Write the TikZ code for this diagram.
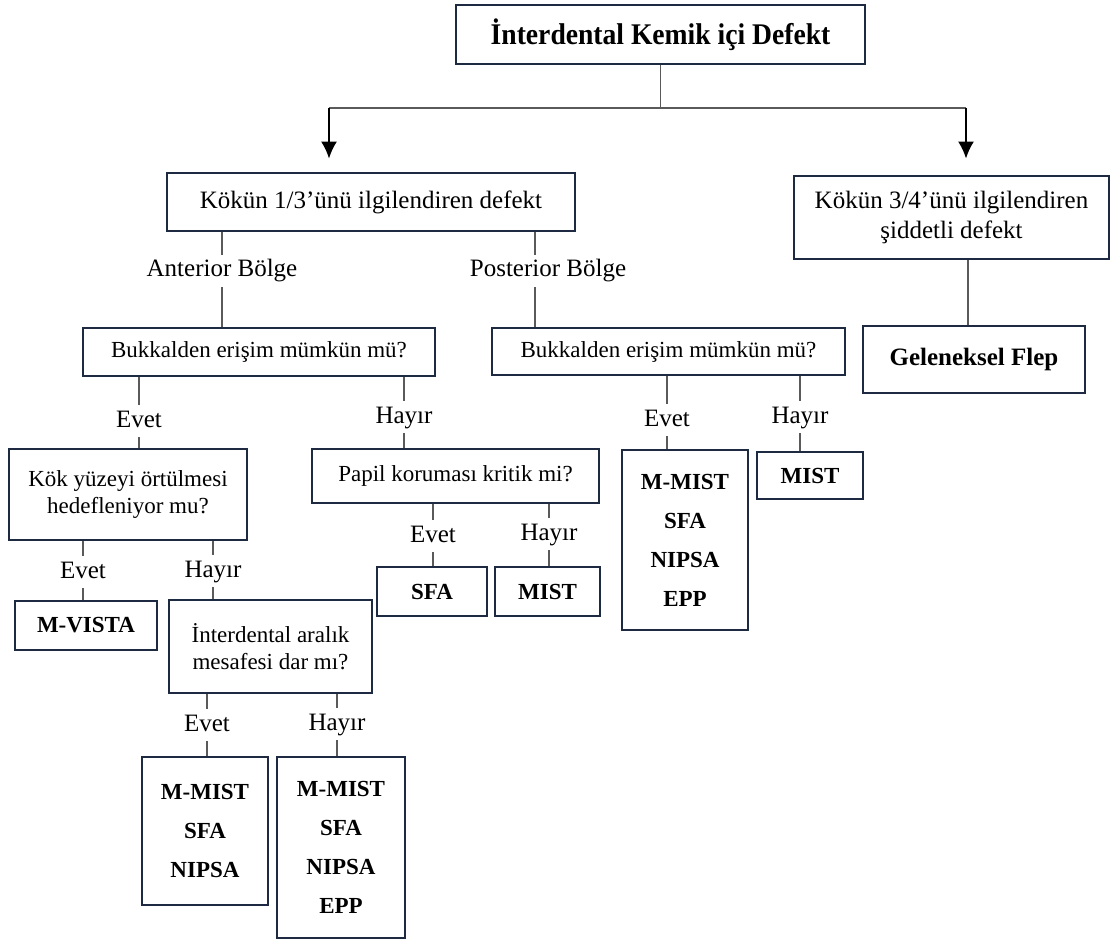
\documentclass[tikz,border=0pt]{standalone}
\usepackage{fontspec}
\setmainfont{Liberation Serif}
\newfontfamily\titlefont{Liberation Serif}[FakeStretch=0.92]
\usetikzlibrary{arrows.meta,positioning}
\definecolor{boxnavy}{RGB}{30,42,66}
\definecolor{linkgray}{RGB}{90,90,90}

\begin{document}
\begin{tikzpicture}[x=0.5pt, y=-0.5pt,
        box/.style={rectangle, draw=boxnavy, line width=1.4pt, align=center, inner sep=2pt}, % kutular
        qbox/.style={box, font=\fontsize{11.5}{13.5}\selectfont}, % soru kutulari
        res/.style={box, font=\fontsize{11.5}{19.5}\selectfont\bfseries}, % sonuc kutulari
        lbl/.style={anchor=base, font=\fontsize{12.5}{14}\selectfont, text height=8.5pt, text depth=2.5pt, inner xsep=1pt, inner ysep=2.5pt},
        link/.style={draw=linkgray, line width=0.6pt},
        arr/.style={draw=black, line width=1pt, -{Latex[length=8.5pt,width=8pt]}}
    ]
    \useasboundingbox (0,0) rectangle (1113,941);

    % ana kutular
    \node (title) [box, minimum width=204.5pt, minimum height=29.5pt, font=\titlefont\fontsize{15}{17}\selectfont\bfseries] at (660.5,34.5) {İnterdental Kemik içi Defekt};
    \node (k13) [box, minimum width=204pt, minimum height=29pt, font=\fontsize{12.5}{15}\selectfont] at (371,202) {Kökün 1/3’ünü ilgilendiren defekt};
    \node (k34) [box, minimum width=157.5pt, minimum height=41.5pt, font=\fontsize{12.5}{15}\selectfont] at (951.5,217.5) {Kökün 3/4’ünü ilgilendiren\\şiddetli defekt};

    % dallanma
    \coordinate (fork) at (660.5,108);
    \coordinate (forkL) at (329,108);
    \coordinate (forkR) at (966,108);
    \draw[link] (title.south) -- (fork);
    \draw[link] (forkL) -- (forkR);
    \draw[arr, shorten >=6.5pt] (forkL) -- (forkL |- k13.north);
    \draw[arr, shorten >=8pt] (forkR) -- (forkR |- k34.north);

    % bolgeler
    \node (lblAnt) [lbl] at (222,277) {Anterior Bölge};
    \node (lblPost) [lbl] at (548,277) {Posterior Bölge};
    \coordinate (postX) at (535,0);
    \node (bukA) [qbox, minimum width=176pt, minimum height=24pt] at (259,352) {Bukkalden erişim mümkün mü?};
    \node (bukP) [qbox, minimum width=176.5pt, minimum height=23.5pt] at (668.5,351.5) {Bukkalden erişim mümkün mü?};
    \node (flep) [box, minimum width=111pt, minimum height=33.5pt, font=\fontsize{12.5}{15}\selectfont\bfseries] at (974,359.5) {Geleneksel Flep};

    \draw[link] (lblAnt.north) -- (lblAnt.north |- k13.south);
    \draw[link] (lblAnt.south) -- (lblAnt.south |- bukA.north);
    \draw[link] (postX |- k13.south) -- (postX |- lblPost.north);
    \draw[link] (postX |- lblPost.south) -- (postX |- bukP.north);
    \draw[link] ([xshift=-3pt]flep.north) -- ([xshift=-3pt]flep.north |- k34.south);

    % anterior: bukkalden erisim
    \node (evA) [lbl] at (139,427) {Evet};
    \node (hyA) [lbl] at (404,423) {Hayır};
    \node (kokyuz) [qbox, minimum width=119pt, minimum height=45.5pt] at (128,494.5) {Kök yüzeyi örtülmesi\\hedefleniyor mu?};
    \node (papil) [qbox, minimum width=143.5pt, minimum height=27pt] at (455.5,476) {Papil koruması kritik mi?};
    \draw[link] (evA.north) -- (evA.north |- bukA.south);
    \draw[link] (evA.south) -- (evA.south |- kokyuz.north);
    \draw[link] (hyA.north) -- (hyA.north |- bukA.south);
    \draw[link] (hyA.south) -- (hyA.south |- papil.north);

    % posterior: bukkalden erisim
    \node (evP) [lbl] at (667,426) {Evet};
    \node (hyP) [lbl] at (800,423) {Hayır};
    \node (listP) [res, minimum width=63pt, minimum height=90pt] at (685,540) {M-MIST\\SFA\\NIPSA\\EPP};
    \node (mistP) [res, minimum width=53pt, minimum height=23.5pt] at (810,475.5) {MIST};
    \draw[link] (evP.north) -- (evP.north |- bukP.south);
    \draw[link] (evP.south) -- (evP.south |- listP.north);
    \draw[link] (hyP.north) -- (hyP.north |- bukP.south);
    \draw[link] (hyP.south) -- (hyP.south |- mistP.north);

    % kok yuzeyi ortulmesi
    \node (evK) [lbl] at (83,578) {Evet};
    \node (hyK) [lbl] at (213,577) {Hayır};
    \node (mvista) [res, minimum width=71pt, minimum height=24.5pt] at (86,625.5) {M-VISTA};
    \node (aralik) [qbox, minimum width=101.5pt, minimum height=46.5pt] at (270.5,646.5) {İnterdental aralık\\mesafesi dar mı?};
    \draw[link] (evK.north) -- (evK.north |- kokyuz.south);
    \draw[link] (evK.south) -- (evK.south |- mvista.north);
    \draw[link] (hyK.north) -- (hyK.north |- kokyuz.south);
    \draw[link] (hyK.south) -- (hyK.south |- aralik.north);

    % papil korumasi
    \node (evPa) [lbl] at (433,542) {Evet};
    \node (hyPa) [lbl] at (549,540) {Hayır};
    \node (sfaA) [res, minimum width=55pt, minimum height=24.5pt] at (432,591.5) {SFA};
    \node (mistA) [res, minimum width=52.5pt, minimum height=24.5pt] at (547.5,591.5) {MIST};
    \draw[link] (evPa.north) -- (evPa.north |- papil.south);
    \draw[link] (evPa.south) -- (evPa.south |- sfaA.north);
    \draw[link] (hyPa.north) -- (hyPa.north |- papil.south);
    \draw[link] (hyPa.south) -- (hyPa.south |- mistA.north);

    % interdental aralik
    \node (evI) [lbl] at (207,731) {Evet};
    \node (hyI) [lbl] at (337,730) {Hayır};
    \node (list3) [res, minimum width=63pt, minimum height=74pt] at (205,831) {M-MIST\\SFA\\NIPSA};
    \node (list4) [res, minimum width=64pt, minimum height=90.5pt] at (341,847.5) {M-MIST\\SFA\\NIPSA\\EPP};
    \draw[link] (evI.north) -- (evI.north |- aralik.south);
    \draw[link] (evI.south) -- (evI.south |- list3.north);
    \draw[link] (hyI.north) -- (hyI.north |- aralik.south);
    \draw[link] (hyI.south) -- (hyI.south |- list4.north);

\end{tikzpicture}
\end{document}
